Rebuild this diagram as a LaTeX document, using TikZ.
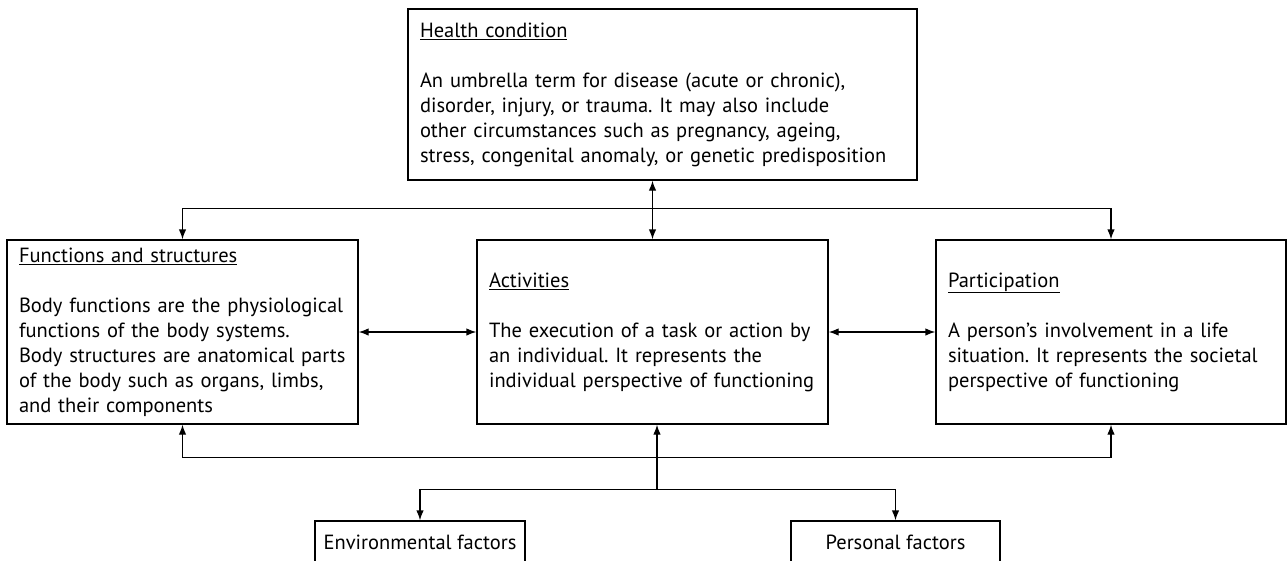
\documentclass[tikz,border=0pt]{standalone}
\usepackage{fontspec}
\setmainfont{PT Sans}
\usetikzlibrary{arrows.meta,calc}
\tikzset{
  box/.style={draw, line width=1.3pt, align=left, inner xsep=12pt, inner ysep=0pt,
    font=\fontsize{20.5}{25}\selectfont, anchor=center},
  smallbox/.style={draw, line width=1.3pt, align=center, inner sep=0pt,
    font=\fontsize{20.5}{25}\selectfont, anchor=center},
  conn/.style={line width=1.3pt, arrows={-Latex[length=10pt,width=7.5pt]}},
  conn2/.style={line width=1.3pt, arrows={Latex[length=10pt,width=7.5pt]-Latex[length=10pt,width=7.5pt]}},
}
\frenchspacing
\begin{document}
\begin{tikzpicture}[x=1pt,y=-1pt]
\useasboundingbox (0,0) rectangle (1287,560);
\node[box, text width=485pt, minimum height=171pt] (hc) at (662.5,94.5)
  {\underline{Health condition}\\[25pt]
   An umbrella term for disease (acute or chronic),\\
   disorder, injury, or trauma. It may also include\\
   other circumstances such as pregnancy, ageing,\\
   stress, congenital anomaly, or genetic predisposition};
\node[box, text width=327pt, minimum height=184pt] (fs) at (182.5,332)
  {\underline{Functions and structures}\\[25pt]
   Body functions are the physiological\\
   functions of the body systems.\\
   Body structures are anatomical parts\\
   of the body such as organs, limbs,\\
   and their components};
\node[box, text width=327pt, minimum height=184pt] (act) at (652.5,332)
  {\underline{Activities}\\[25pt]
   The execution of a task or action by\\
   an individual. It represents the\\
   individual perspective of functioning};
\node[box, text width=326pt, minimum height=184pt] (pa) at (1111,332)
  {\underline{Participation}\\[25pt]
   A person's involvement in a life\\
   situation. It represents the societal\\
   perspective of functioning};
\node[smallbox, minimum width=210pt, minimum height=42pt] (env) at (420,542) {Environmental factors};
\node[smallbox, minimum width=209pt, minimum height=42pt] (pf) at (895.5,542) {Personal factors};

\draw[conn2] (act.north) -- (act.north |- hc.south);
\draw[conn2] (fs.north) -- ++(0,-31) -| (pa.north);
\draw[conn2] (fs.south) -- ++(0,33) -| (pa.south);
\draw[conn2] (fs.east) -- (act.west);
\draw[conn2] (act.east) -- (pa.west);
\coordinate (j) at ($(act.south)+(4.5,65)$);
\draw[conn] (j) -- ($(act.south)+(4.5,0)$);
\draw[conn] (j) -| (env.north);
\draw[conn] (j) -| (pf.north);
\end{tikzpicture}
\end{document}
